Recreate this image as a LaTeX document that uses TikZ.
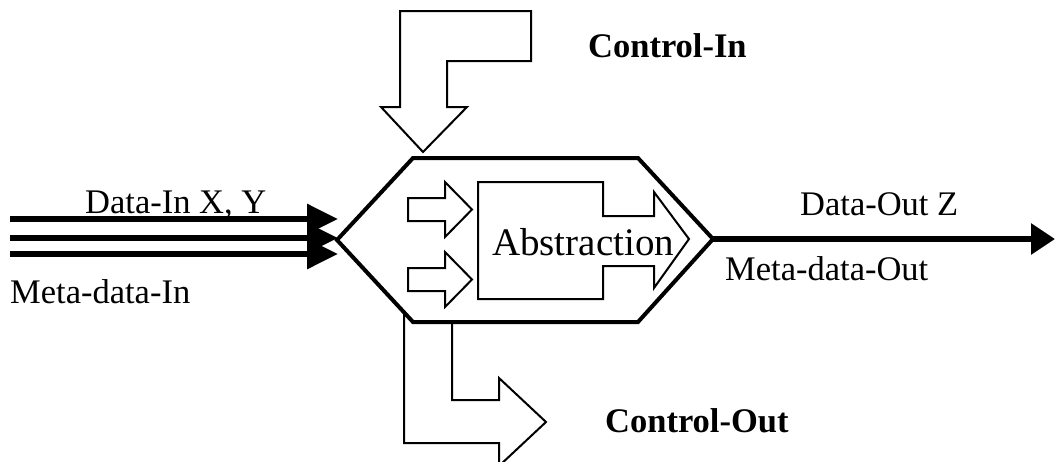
\documentclass[tikz,border=0pt]{standalone}
\usepackage{fontspec}
\setmainfont{Liberation Serif}
\usetikzlibrary{arrows.meta}

\tikzset{
  label text/.style={inner sep=0pt, anchor=base west, font=\fontsize{34.5}{40}\selectfont},
  bold text/.style={label text, font=\fontsize{34.5}{40}\selectfont\bfseries},
  data line/.style={line width=6pt, -{Triangle[length=31pt, width=29pt]}},
  out line/.style={line width=6pt, -{Triangle[length=24pt, width=30pt]}},
  hexagon/.style={line width=4pt, line join=miter, fill=white},
  block arrow/.style={line width=2pt, line join=miter, fill=white},
}

\begin{document}
\begin{tikzpicture}[x=1pt, y=-1pt]
  \useasboundingbox (0,0) rectangle (1055,461);
  \clip (0,0) rectangle (1055,461);

  % hexagon corners
  \coordinate (hexL)  at (337,240);
  \coordinate (hexTL) at (413,158);
  \coordinate (hexTR) at (638,158);
  \coordinate (hexR)  at (713,239);
  \coordinate (hexBR) at (638,322);
  \coordinate (hexBL) at (413,322);

  % Control-Out bent block arrow (its open end hides under the hexagon)
  \draw[block arrow, fill=none]
    (404,312) -- (404,443) -- (499,443) -- (499,466) -- (546,422)
    -- (499,378) -- (499,400) -- (452,400) -- (452,322);

  % Control-In bent block arrow
  \draw[block arrow]
    (400,11) -- (531,11) -- (531,61) -- (447,61) -- (447,107)
    -- (467,107) -- (423,152) -- (381,107) -- (400,107) -- cycle;

  % process hexagon
  \draw[hexagon] (hexL) -- (hexTL) -- (hexTR) -- (hexR) -- (hexBR) -- (hexBL) -- cycle;

  % two small input block arrows inside the hexagon
  \draw[block arrow]
    (408,198) -- (445,198) -- (445,182) -- (472,209.5) -- (445,237)
    -- (445,221) -- (408,221) -- cycle;
  \draw[block arrow]
    (408,268) -- (445,268) -- (445,252) -- (472,279.5) -- (445,307)
    -- (445,291) -- (408,291) -- cycle;

  % abstraction box with its arrow head
  \draw[block arrow]
    (478,182) -- (603,182) -- (603,216) -- (654,216) -- (654,192)
    -- (689,239) -- (654,288) -- (654,266) -- (603,266) -- (603,299)
    -- (478,299) -- cycle;
  \node[inner sep=0pt, anchor=base, font=\fontsize{39}{45}\selectfont]
    (abstraction) at (583,255) {Abstraction};

  % input data lines
  \coordinate (inA) at (10,219);
  \coordinate (inB) at (10,238);
  \coordinate (inC) at (10,254);
  \coordinate (tipA) at (338,219);
  \coordinate (tipB) at (338,238);
  \coordinate (tipC) at (338,254);
  \draw[data line] (inA) -- (tipA);
  \draw[data line] (inB) -- (tipB);
  \draw[data line] (inC) -- (tipC);

  % output data line
  \coordinate (outEnd) at (1055,239);
  \draw[out line] (hexR) -- (outEnd);

  % labels
  \node[label text] (dataIn)   at (85,213)  {Data-In X, Y};
  \node[label text] (metaIn)   at (10,303)  {Meta-data-In};
  \node[label text] (dataOut)  at (800,215) {Data-Out Z};
  \node[label text] (metaOut)  at (725,280) {Meta-data-Out};
  \node[bold text]  (ctrlIn)   at (588,57)  {Control-In};
  \node[bold text]  (ctrlOut)  at (605,432) {Control-Out};
\end{tikzpicture}
\end{document}
